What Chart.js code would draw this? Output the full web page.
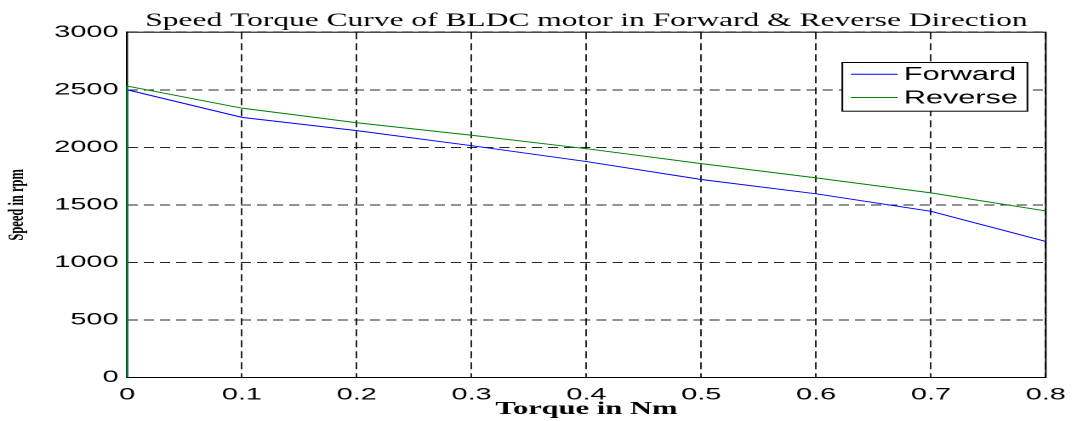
<!DOCTYPE html>
<html>
<head>
<meta charset="utf-8">
<script src="https://cdn.jsdelivr.net/npm/chart.js@4.4.1/dist/chart.umd.min.js"></script>
<style>
  html, body { margin: 0; padding: 0; background: #fff; overflow: hidden; }
  /* the reference is stretched sideways, so draw narrow and stretch the box */
  #wrap {
    position: absolute; left: 0; top: 0;
    width: 633.53px; height: 421px;
    transform: scaleX(1.7); transform-origin: 0 0;
  }
</style>
</head>
<body>
<div id="wrap"><canvas id="myChart"></canvas></div>
<script>
let torque = [0, 0, 0.1, 0.2, 0.3, 0.4, 0.5, 0.6, 0.7, 0.8];
let forwardSpeed = [0, 2500, 2260, 2145, 2014, 1876, 1720, 1596, 1444, 1182];
let reverseSpeed = [0, 2532, 2340, 2213, 2105, 1988, 1858, 1734, 1604, 1447];
let xTickLabels = ["0", "0.1", "0.2", "0.3", "0.4", "0.5", "0.6", "0.7", "0.8"];
let yTickLabels = ["0", "500", "1000", "1500", "2000", "2500", "3000"];

let toPoints = (ys) => ys.map((y, i) => ({ x: torque[i], y: y }));

// frame round the plot area (MATLAB style box)
let framePlugin = {
  id: "frame",
  beforeDatasetsDraw(chart) {
    let a = chart.chartArea;
    let ctx = chart.ctx;
    ctx.save();
    ctx.strokeStyle = "#000";
    ctx.lineWidth = 1;
    ctx.strokeRect(a.left, a.top, a.right - a.left, a.bottom - a.top);
    ctx.restore();
  },
};

// boxed legend inside the plot, top right
let boxLegend = {
  id: "boxLegend",
  afterDatasetsDraw(chart) {
    let a = chart.chartArea;
    let ctx = chart.ctx;
    let left = a.right - 119.6;
    let top = a.top + 30.3;
    ctx.save();
    ctx.fillStyle = "#fff";
    ctx.fillRect(left, top, 108.8, 48.7);
    ctx.strokeStyle = "#000";
    ctx.lineWidth = 1;
    ctx.strokeRect(left, top, 108.8, 48.7);
    ctx.font = "18px 'Liberation Sans', Arial, sans-serif";
    ctx.textBaseline = "middle";
    chart.data.datasets.forEach((ds, i) => {
      let y = top + 11.7 + i * 23.3;
      ctx.strokeStyle = ds.borderColor;
      ctx.beginPath();
      ctx.moveTo(left + 5, y);
      ctx.lineTo(left + 32.5, y);
      ctx.stroke();
      ctx.fillStyle = "#000";
      ctx.fillText(ds.label, left + 36.2, y + 1);
    });
    ctx.restore();
  },
};

let speedChart = new Chart(document.getElementById("myChart"), {
  type: "line",
  data: {
    datasets: [
      {
        label: "Forward",
        data: toPoints(forwardSpeed),
        borderColor: "#0000ff",
        borderWidth: 1,
        pointRadius: 0,
        tension: 0,
        clip: 2,
        order: 1,
      },
      {
        label: "Reverse",
        data: toPoints(reverseSpeed),
        borderColor: "#008000",
        borderWidth: 1,
        pointRadius: 0,
        tension: 0,
        clip: 2,
        order: 0,
      },
    ],
  },
  options: {
    responsive: true,
    maintainAspectRatio: false,
    animation: false,
    devicePixelRatio: 2,
    layout: { padding: { left: 0, right: 16.5, top: 0, bottom: 0 } },
    plugins: {
      legend: { display: false },
      tooltip: { enabled: false },
      title: {
        display: true,
        fullSize: false,
        text: "Speed Torque Curve of BLDC motor in Forward & Reverse Direction",
        color: "#000",
        font: { family: "'Liberation Serif', 'Times New Roman', serif", size: 18.5, weight: "normal", lineHeight: 1.2 },
        padding: { top: 10, bottom: 0 },
      },
    },
    scales: {
      x: {
        type: "linear",
        min: 0,
        max: 0.8,
        afterFit: (scale) => { scale.height = 43.5; },
        afterBuildTicks: (scale) => {
          scale.ticks = xTickLabels.map((t) => ({ value: Number(t) }));
        },
        ticks: {
          color: "#000",
          padding: 7,
          maxRotation: 0,
          font: { family: "'Liberation Sans', Arial, sans-serif", size: 17 },
          callback: (value, index) => xTickLabels[index],
        },
        grid: { color: "rgba(0,0,0,0.85)", lineWidth: 1, drawTicks: false },
        border: { display: true, color: "#000", dash: [7, 4] },
        title: {
          display: true,
          text: "Torque in Nm",
          color: "#000",
          font: { family: "'Liberation Serif', 'Times New Roman', serif", size: 18, weight: "bold", lineHeight: 1.2 },
          padding: { top: 1, bottom: 1 },
        },
      },
      y: {
        min: 0,
        max: 3000,
        afterFit: (scale) => { scale.width = 74.7; },
        afterBuildTicks: (scale) => {
          scale.ticks = yTickLabels.map((t) => ({ value: Number(t) }));
        },
        ticks: {
          color: "#000",
          padding: 5,
          font: { family: "'Liberation Sans', Arial, sans-serif", size: 17 },
          callback: (value, index) => yTickLabels[index],
        },
        grid: { color: "rgba(0,0,0,0.85)", lineWidth: 1, drawTicks: false },
        border: { display: true, color: "#000", dash: [6, 3.5] },
        title: {
          display: true,
          text: "Speed in rpm",
          color: "#000",
          font: { family: "'Liberation Serif', 'Times New Roman', serif", size: 12.5, weight: "bold", lineHeight: 1.2 },
          padding: { top: 3, bottom: 0 },
        },
      },
    },
  },
  plugins: [framePlugin, boxLegend],
});
</script>
</body>
</html>
